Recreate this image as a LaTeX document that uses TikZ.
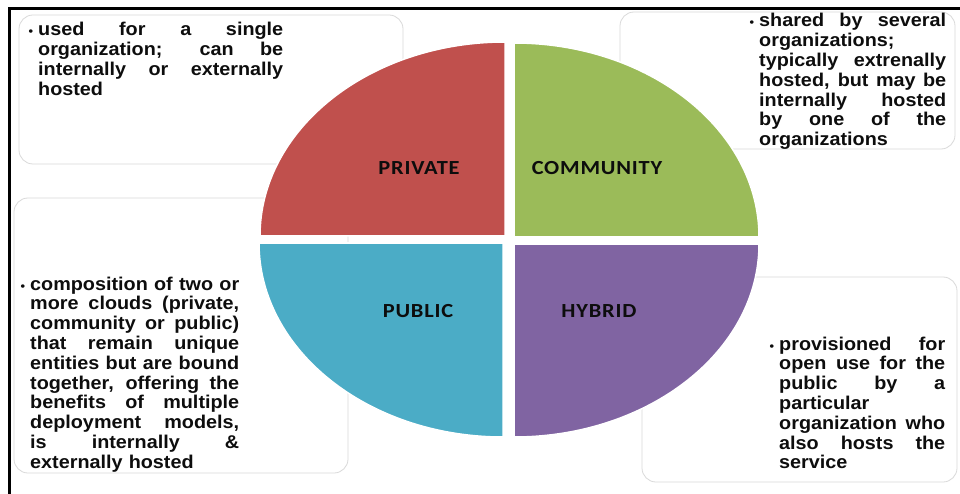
\documentclass[tikz,border=0pt]{standalone}
\usepackage{fontspec}
\setmainfont{Liberation Sans}
\newfontfamily\bodyfont[FakeStretch=1.07]{Liberation Sans}
\newfontfamily\labfont[FakeStretch=1.12,LetterSpace=4]{Carlito}
\newcommand\jl[2]{\leavevmode\hbox to #1{\spaceskip=0.25em plus 1fil\relax #2}}
\newcommand\bul{\leavevmode\llap{\fontsize{12}{12}\selectfont\textbullet\hspace{5pt}}}
\definecolor{cprivate}{HTML}{C0504D}
\definecolor{ccommunity}{HTML}{9BBB59}
\definecolor{cpublic}{HTML}{4BACC6}
\definecolor{chybrid}{HTML}{8064A2}
\definecolor{boxline}{HTML}{DADADA}
\definecolor{ink}{HTML}{0D0D0D}
\begin{document}
\begin{tikzpicture}[x=1pt,y=-1pt,
  box/.style={draw=boxline, line width=0.8pt, rounded corners=14pt, fill=white},
  quad/.style={draw=white, line width=1.5pt},
  txt/.style={anchor=base west, inner sep=0pt, align=left, text=ink,
    font=\bodyfont\bfseries\fontsize{18.5}{19.8}\selectfont},
  lab/.style={inner sep=0pt, text=ink, font=\labfont\bfseries\fontsize{20}{20}\selectfont}]
\useasboundingbox (0,0) rectangle (960,494);
\fill[white] (0,0) rectangle (960,494);
% frame
\draw[line width=3pt, black] (9.5,494) -- (9.5,8.5) -- (960,8.5);
% text boxes
\draw[box] (19,15) rectangle (403,164);
\draw[box] (620,12) rectangle (955,149);
\draw[box] (14,198) rectangle (348,473);
\draw[box] (642,277) rectangle (957,482);
% quadrants
\filldraw[quad, fill=cprivate] (505,236) -- (260,236) arc[start angle=180, end angle=90, x radius=245pt, y radius=194pt] -- cycle;
\filldraw[quad, fill=ccommunity] (514,237) -- (514,43) arc[start angle=90, end angle=0, x radius=245pt, y radius=194pt] -- cycle;
\filldraw[quad, fill=cpublic] (503,243) -- (259,243) arc[start angle=180, end angle=270, x radius=244pt, y radius=194pt] -- cycle;
\filldraw[quad, fill=chybrid] (514,244) -- (759,244) arc[start angle=0, end angle=-90, x radius=245pt, y radius=193pt] -- cycle;
% labels
\node[lab] (lprivate) at (419,168) {PRIVATE};
\node[lab] (lcommunity) at (597,168) {COMMUNITY};
\node[lab] (lpublic) at (418,311) {PUBLIC};
\node[lab] (lhybrid) at (599,311) {HYBRID};
% texts
\node[txt, text width=245pt] (tprivate) at (38,36) {\bul\jl{245pt}{used for a single}\\
\jl{245pt}{organization; can be}\\
\jl{245pt}{internally or externally}\\
hosted};
\node[txt, text width=187pt] (tcommunity) at (759,27) {\bul\jl{187pt}{shared by several}\\
organizations;\\
\jl{187pt}{typically extrenally}\\
\jl{187pt}{hosted, but may be}\\
\jl{187pt}{internally hosted}\\
\jl{187pt}{by one of the}\\
organizations};
\node[txt, text width=209pt] (thybrid) at (30,290) {\bul\jl{209pt}{composition of two or}\\
\jl{209pt}{more clouds (private,}\\
\jl{209pt}{community or public)}\\
\jl{209pt}{that remain unique}\\
\jl{209pt}{entities but are bound}\\
\jl{209pt}{together, offering the}\\
\jl{209pt}{benefits of multiple}\\
\jl{209pt}{deployment models,}\\
\jl{209pt}{is internally \&}\\
externally hosted};
\node[txt, text width=166pt] (tpublic) at (779,350) {\bul\jl{166pt}{provisioned for}\\
\jl{166pt}{open use for the}\\
\jl{166pt}{public by a}\\
particular\\
\jl{166pt}{organization who}\\
\jl{166pt}{also hosts the}\\
service};
\end{tikzpicture}
\end{document}
